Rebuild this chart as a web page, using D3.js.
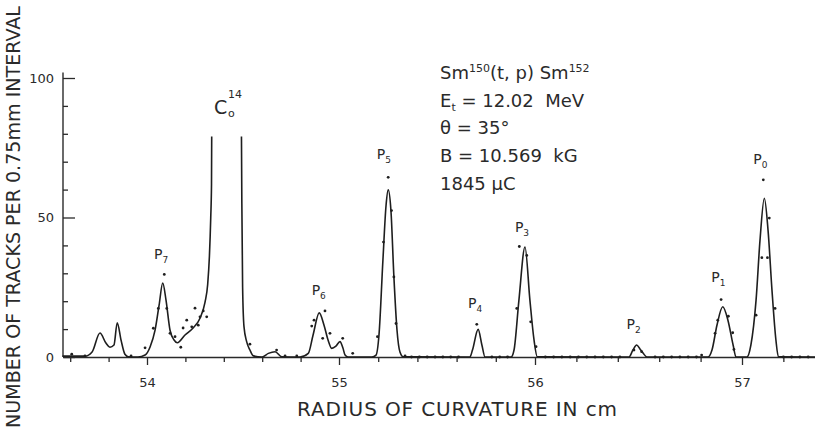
<!DOCTYPE html>
<html>
<head>
<meta charset="utf-8">
<script src="https://cdn.jsdelivr.net/npm/d3@7.9.0/dist/d3.min.js"></script>
<style>
  body { margin: 0; background: #fff; }
  svg { display: block; }
  text { font-family: "DejaVu Sans", sans-serif; fill: #2a2a2a; }
  .tick line, .domain { stroke: #2a2a2a; }
</style>
</head>
<body>
<svg id="chart" width="815" height="435"></svg>
<script>
// fitted curve through the spectrum (radius in cm, tracks per interval); null = cut off top of C14 peak
const curveR = [53.56, 53.677, 53.714, 53.755, 53.786, 53.807, 53.828, 53.845, 53.865, 53.885, 53.903, 53.953, 53.99,
  54.016, 54.042, 54.063, 54.082, 54.099, 54.12, 54.141, 54.158, 54.198, 54.24, 54.276, 54.302, 54.316, 54.325, 54.332, 54.336, 54.337,
  54.41,
  54.492, 54.494, 54.498, 54.505, 54.519, 54.536, 54.554, 54.599, 54.632, 54.667, 54.702, 54.797, 54.84, 54.865, 54.897, 54.922,
  54.943, 54.962, 54.984, 55.005, 55.02, 55.031, 55.046, 55.168, 55.189, 55.204, 55.224, 55.24, 55.251, 55.265, 55.28, 55.296,
  55.311, 55.328, 55.668, 55.681, 55.71, 55.729, 55.745, 55.878, 55.893, 55.918, 55.949, 55.974, 55.995, 56.011, 56.454, 56.473,
  56.491, 56.507, 56.522, 56.541, 56.836, 56.855, 56.879, 56.907, 56.932, 56.957, 56.971, 57.024, 57.043, 57.068, 57.087, 57.108,
  57.126, 57.145, 57.164, 57.176, 57.353];
const curveN = [0.3, 0.3, 1.8, 8.6, 5, 3.5, 4.3, 12.3, 6, 1, 0.1, 0, 0.7,
  3.6, 9.6, 18.6, 26.5, 20.4, 9.6, 6.1, 5.1, 7.9, 10.4, 13.9, 19.6, 26, 36, 50, 62, 79,
  null,
  79, 55, 25, 11, 5.5, 2.5, 0.4, 0, 1.3, 1.9, 0.1, 0, 1.3, 7.9, 15.8, 11.4,
  6.1, 3.1, 3.9, 5.5, 3.2, 0.7, 0, 0, 0.7, 7.9, 34.6, 54.3, 59.9, 52.5, 28.9, 9.6,
  1.8, 0.1, 0, 2.5, 9.9, 4.3, 0, 0, 2.5, 20.4, 39.4, 20.4, 6.1, 0.1, 0, 2.5,
  4.3, 2.9, 1.4, 0, 0, 2.5, 11.4, 18, 13.2, 4.3, 0, 0, 4.3, 20.4, 41.8, 56.9,
  45.4, 23.9, 6.1, 0.1, 0];

// measured counts (dots)
const dotR = [53.608, 53.677, 53.917, 53.99, 54.033, 54.059, 54.09, 54.103, 54.12, 54.146, 54.176, 54.188, 54.207, 54.233,
  54.25, 54.267, 54.276, 54.293, 54.311, 54.536, 54.675, 54.719, 54.78, 54.858, 54.87, 54.927, 54.915, 54.953, 55.019, 55.07,
  55.196, 55.227, 55.251, 55.268, 55.28, 55.291, 55.337, 55.703, 55.92, 55.958, 55.907, 55.978, 56.005, 56.478, 56.515,
  56.805, 56.87, 56.883, 56.899, 56.934, 56.955, 56.961, 57.103, 57.132, 57.096, 57.123, 57.16, 57.068];
const dotN = [1.0, 0.4, 0.4, 3.3, 10.3, 17.4, 29.6, 17.4, 8.5, 7.3, 3.5, 10.4, 13.2, 10.8,
  17.5, 11.4, 14.4, 16.5, 14.4, 4.6, 2.5, 0.4, 0.4, 11.1, 13.2, 16.5, 6.7, 8.5, 6.7, 1.3,
  7.3, 41.2, 64.4, 52.5, 28.7, 12, 0.4, 11.7, 39.6, 36.4, 17.4, 12.6, 3.7, 2.5, 1.9,
  0.7, 8.5, 13.2, 20.6, 14.6, 8.7, 2.7, 63.5, 49.8, 35.6, 35.6, 17.4, 15];
// intervals with no tracks
const zeroR = [55.37, 55.41, 55.45, 55.49, 55.53, 55.57, 55.61, 55.78, 55.82, 55.86, 56.05, 56.09, 56.13, 56.17, 56.21,
  56.25, 56.29, 56.33, 56.37, 56.41, 56.58, 56.62, 56.66, 56.7, 56.74, 56.78, 57.2, 57.24, 57.28, 57.32];

// peak labels
const peakNames = ["7", "6", "5", "4", "3", "2", "1", "0"];
const peakR = [54.089, 54.91, 55.244, 55.71, 55.949, 56.491, 56.9, 57.103];
const peakTop = [37, 24, 72.8, 19.2, 46.5, 11.8, 28.7, 71];

const xMajor = [54, 55, 56, 57];
const xMinor = [53.6, 53.8, 54.2, 54.4, 54.6, 54.8, 55.2, 55.4, 55.6, 55.8, 56.2, 56.4, 56.6, 56.8, 57.2];
const yMajor = [0, 50, 100];
const yMinor = [10, 20, 30, 40, 60, 70, 80, 90];

const svg = d3.select('#chart');

// the original paper scale is slightly uneven, so the x scale is piecewise between the labelled cm
const x = d3.scaleLinear()
  .domain([53.5625, 54, 55, 56, 57, 57.353])
  .range([63, 147, 339, 535, 742, 815]);
const y = d3.scaleLinear().domain([0, 100]).range([357, 78]);

// x axis
const xAxisG = svg.append('g').attr('transform', `translate(0,${y(0)})`);
xAxisG.call(d3.axisBottom(x).tickValues(xMinor).tickSize(5).tickFormat('').tickSizeOuter(0));
xAxisG.select('.domain').attr('stroke-width', 1.4);
const xMajG = svg.append('g').attr('transform', `translate(0,${y(0)})`);
xMajG.call(d3.axisBottom(x).tickValues(xMajor).tickSize(8).tickPadding(13).tickFormat(d3.format('d')));
xMajG.select('.domain').remove();
xMajG.selectAll('text').attr('font-size', 13);
svg.selectAll('.tick line').attr('stroke-width', 1.3);

// y axis, ticks pointing inward
const yMinG = svg.append('g').attr('transform', `translate(${x.range()[0]},0)`);
yMinG.call(d3.axisLeft(y).tickValues(yMinor).tickSize(-5).tickFormat(''));
yMinG.select('.domain').remove();
const yMajG = svg.append('g').attr('transform', `translate(${x.range()[0]},0)`);
yMajG.call(d3.axisLeft(y).tickValues(yMajor).tickSize(-12).tickPadding(9).tickFormat(d3.format('d')));
yMajG.select('.domain').remove();
yMajG.selectAll('text').attr('font-size', 13);
svg.selectAll('.tick line').attr('stroke-width', 1.3);
svg.append('line')
  .attr('x1', x.range()[0]).attr('x2', x.range()[0])
  .attr('y1', y(0)).attr('y2', y(102))
  .attr('stroke', '#2a2a2a').attr('stroke-width', 1.4);

// fitted curve
const curveData = curveR.map((r, i) => ({ r, n: curveN[i] }));
const line = d3.line()
  .defined(d => d.n !== null)
  .x(d => x(d.r))
  .y(d => y(d.n))
  .curve(d3.curveMonotoneX);
svg.append('path')
  .datum(curveData)
  .attr('d', line)
  .attr('fill', 'none')
  .attr('stroke', '#1e1e1e')
  .attr('stroke-width', 1.6)
  .attr('stroke-linejoin', 'round');

// dots
svg.append('g').selectAll('circle')
  .data(dotR.map((r, i) => ({ r, n: dotN[i] })))
  .join('circle')
  .attr('cx', d => x(d.r))
  .attr('cy', d => y(d.n))
  .attr('r', 1.4)
  .attr('fill', '#1e1e1e');
svg.append('g').selectAll('circle')
  .data(zeroR)
  .join('circle')
  .attr('cx', d => x(d))
  .attr('cy', y(0))
  .attr('r', 1.4)
  .attr('fill', '#1e1e1e');

// peak labels P_n
peakNames.forEach((name, i) => {
  const t = svg.append('text')
    .attr('x', x(peakR[i]) - 3)
    .attr('y', y(peakTop[i]) + 5)
    .attr('text-anchor', 'middle')
    .attr('font-size', 14);
  t.append('tspan').text('P');
  t.append('tspan').attr('font-size', 9).attr('dy', 4).text(name);
});

// C14 label
const c14 = svg.append('text').attr('x', 214).attr('y', 114).attr('font-size', 19);
c14.append('tspan').text('C');
svg.append('text').attr('x', 228).attr('y', 98).attr('font-size', 11).text('14');
svg.append('text').attr('x', 228).attr('y', 117).attr('font-size', 11).text('o');

// reaction info
const info = svg.append('g');
const l1 = info.append('text').attr('x', 440).attr('y', 79).attr('font-size', 18);
l1.append('tspan').text('Sm');
l1.append('tspan').attr('font-size', 11).attr('dy', -7).text('150');
l1.append('tspan').attr('dy', 7).text('(t, p) Sm');
l1.append('tspan').attr('font-size', 11).attr('dy', -7).text('152');
const l2 = info.append('text').attr('x', 440).attr('y', 107).attr('font-size', 18);
l2.append('tspan').text('E');
l2.append('tspan').attr('font-size', 11).attr('dy', 4).text('t');
l2.append('tspan').attr('dy', -4).text(' = 12.02\u00A0\u00A0MeV');
info.append('text').attr('x', 440).attr('y', 134).attr('font-size', 18).text('\u03B8 = 35\u00B0');
info.append('text').attr('x', 440).attr('y', 162).attr('font-size', 18).text('B = 10.569\u00A0\u00A0kG');
info.append('text').attr('x', 440).attr('y', 190).attr('font-size', 18).text('1845 \u00B5C');

// axis titles
svg.append('text')
  .attr('x', 297).attr('y', 416)
  .attr('font-size', 20)
  .attr('textLength', 320).attr('lengthAdjust', 'spacing')
  .text('RADIUS OF CURVATURE IN cm');
svg.append('text')
  .attr('transform', 'translate(20,428) rotate(-90)')
  .attr('font-size', 19)
  .attr('textLength', 422).attr('lengthAdjust', 'spacingAndGlyphs')
  .text('NUMBER OF TRACKS PER 0.75mm INTERVAL');
</script>
</body>
</html>
